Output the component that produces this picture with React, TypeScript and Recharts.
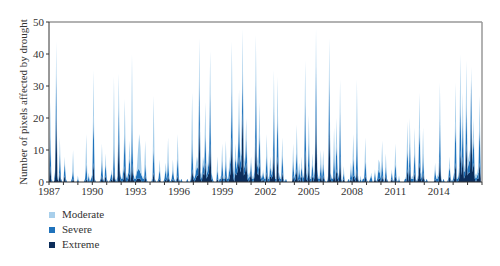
import { Area, AreaChart, ReferenceLine, XAxis, YAxis } from "recharts";

const START_YEAR = 1987;
const labelYears = [1987, 1990, 1993, 1996, 1999, 2002, 2005, 2008, 2011, 2014];
const yTicks = [0, 10, 20, 30, 40, 50];

// monthly pixel counts, one row per year (Jan..Dec), 1987-2016
const extreme = [
  [0, 5, 0, 0, 0, 1, 22, 1, 0, 3, 0, 0],
  [0, 2, 0, 0, 0, 0, 0, 0, 1, 0, 0, 0],
  [0, 0, 0, 0, 0, 0, 0, 1, 0, 0, 0, 0],
  [0, 6, 0, 0, 0, 0, 0, 0, 2, 0, 0, 2],
  [0, 0, 0, 0, 1, 0, 4, 0, 0, 0, 14, 1],
  [0, 0, 1, 5, 0, 0, 1, 3, 0, 6, 1, 0],
  [0, 1, 1, 1, 1, 0, 0, 0, 2, 0, 0, 0],
  [0, 0, 0, 3, 0, 0, 0, 0, 1, 0, 0, 0],
  [0, 1, 0, 2, 0, 0, 0, 1, 0, 0, 0, 2],
  [0, 0, 0, 0, 0, 0, 0, 0, 0, 0, 0, 4],
  [1, 0, 1, 2, 2, 18, 1, 0, 3, 2, 6, 1],
  [2, 3, 12, 1, 0, 0, 0, 0, 1, 0, 0, 0],
  [2, 0, 0, 2, 0, 0, 1, 3, 14, 2, 0, 3],
  [2, 4, 8, 3, 5, 22, 2, 3, 6, 1, 0, 1],
  [3, 0, 0, 2, 14, 3, 2, 6, 1, 0, 1, 0],
  [0, 3, 0, 0, 2, 1, 2, 10, 0, 0, 8, 1],
  [0, 0, 3, 0, 0, 0, 0, 0, 0, 0, 0, 2],
  [0, 1, 4, 0, 1, 0, 2, 0, 0, 10, 1, 0],
  [5, 0, 0, 2, 0, 2, 22, 2, 0, 0, 2, 0],
  [2, 0, 0, 0, 0, 18, 1, 0, 0, 3, 0, 4],
  [1, 0, 8, 0, 0, 1, 0, 0, 0, 0, 0, 1],
  [0, 2, 1, 0, 4, 0, 0, 0, 0, 0, 0, 2],
  [0, 0, 0, 0, 0, 0, 0, 1, 0, 0, 1, 1],
  [0, 2, 0, 0, 2, 0, 0, 0, 0, 1, 0, 0],
  [2, 0, 0, 0, 0, 0, 0, 0, 0, 0, 4, 0],
  [5, 0, 0, 0, 3, 0, 0, 1, 6, 1, 0, 3],
  [0, 0, 0, 0, 0, 0, 0, 0, 0, 1, 0, 0],
  [0, 8, 0, 0, 0, 0, 0, 0, 0, 2, 0, 0],
  [0, 1, 6, 0, 0, 1, 10, 2, 8, 1, 2, 12],
  [2, 3, 3, 20, 3, 6, 1, 0, 1, 1, 6, 1],
].flat();

const severe = [
  [1, 10, 1, 0, 0, 2, 12, 1, 0, 6, 1, 0],
  [0, 4, 1, 0, 0, 0, 0, 1, 3, 0, 0, 0],
  [1, 0, 0, 0, 0, 0, 1, 5, 0, 2, 0, 1],
  [2, 15, 1, 0, 0, 0, 0, 1, 5, 1, 0, 4],
  [1, 0, 0, 1, 2, 0, 9, 1, 0, 2, 10, 2],
  [1, 1, 3, 11, 2, 1, 2, 5, 1, 14, 2, 1],
  [1, 2, 3, 3, 2, 2, 1, 1, 4, 1, 0, 0],
  [0, 0, 1, 8, 1, 0, 0, 1, 3, 0, 0, 0],
  [1, 3, 1, 5, 1, 0, 1, 3, 1, 0, 1, 6],
  [1, 0, 1, 0, 0, 0, 0, 1, 0, 0, 1, 10],
  [1, 1, 2, 3, 2, 15, 2, 1, 3, 2, 10, 1],
  [2, 4, 16, 2, 1, 0, 0, 0, 3, 0, 1, 1],
  [5, 1, 1, 5, 1, 1, 3, 4, 16, 3, 1, 5],
  [2, 4, 12, 3, 4, 14, 2, 3, 8, 2, 1, 1],
  [3, 1, 1, 2, 18, 3, 2, 10, 1, 1, 2, 1],
  [1, 6, 1, 1, 3, 1, 2, 14, 1, 1, 14, 2],
  [1, 1, 6, 1, 0, 1, 0, 0, 0, 0, 0, 5],
  [1, 2, 6, 1, 3, 1, 3, 1, 2, 16, 2, 1],
  [8, 1, 1, 4, 1, 2, 14, 2, 1, 1, 4, 1],
  [4, 1, 0, 0, 1, 15, 2, 1, 1, 6, 1, 8],
  [2, 1, 14, 1, 0, 2, 0, 0, 0, 1, 0, 3],
  [1, 6, 1, 1, 12, 1, 0, 1, 0, 1, 1, 5],
  [1, 0, 0, 1, 2, 0, 0, 2, 0, 1, 3, 2],
  [1, 5, 1, 0, 3, 1, 0, 0, 0, 2, 0, 1],
  [4, 1, 0, 1, 0, 0, 0, 0, 1, 1, 7, 1],
  [8, 1, 1, 1, 7, 1, 0, 1, 11, 2, 1, 6],
  [1, 0, 1, 0, 0, 0, 0, 0, 0, 3, 1, 1],
  [2, 12, 1, 0, 1, 0, 0, 0, 1, 3, 1, 0],
  [1, 2, 13, 1, 1, 2, 16, 2, 12, 2, 2, 14],
  [2, 3, 4, 12, 3, 8, 1, 1, 1, 2, 12, 1],
].flat();

const moderate = [
  [0, 10, 1, 0, 0, 1, 10, 1, 0, 5, 0, 0],
  [0, 2, 0, 0, 0, 0, 0, 0, 6, 0, 0, 0],
  [1, 0, 0, 0, 0, 0, 0, 9, 0, 1, 0, 0],
  [1, 14, 0, 0, 0, 0, 0, 0, 5, 0, 0, 3],
  [0, 0, 0, 0, 1, 0, 20, 0, 0, 1, 10, 1],
  [0, 1, 3, 10, 1, 0, 1, 5, 1, 20, 2, 0],
  [1, 1, 6, 11, 8, 1, 0, 1, 7, 0, 0, 0],
  [0, 0, 1, 16, 0, 0, 0, 0, 3, 0, 0, 0],
  [0, 2, 1, 7, 0, 0, 0, 3, 0, 0, 1, 7],
  [0, 0, 0, 0, 0, 0, 0, 0, 0, 0, 1, 14],
  [1, 0, 2, 3, 2, 12, 1, 1, 2, 2, 9, 1],
  [2, 3, 13, 1, 0, 0, 0, 0, 4, 0, 0, 1],
  [5, 0, 1, 6, 0, 1, 2, 3, 14, 3, 1, 4],
  [1, 2, 9, 2, 3, 12, 2, 2, 6, 1, 1, 1],
  [2, 1, 0, 2, 14, 2, 2, 9, 1, 0, 1, 0],
  [1, 6, 0, 1, 3, 1, 2, 11, 1, 0, 11, 1],
  [0, 1, 5, 0, 0, 0, 0, 0, 0, 0, 0, 5],
  [0, 1, 8, 1, 2, 0, 3, 0, 1, 12, 2, 1],
  [8, 1, 0, 3, 1, 2, 12, 1, 0, 1, 4, 0],
  [4, 0, 0, 0, 1, 12, 1, 0, 0, 8, 1, 8],
  [1, 0, 10, 1, 0, 2, 0, 0, 0, 0, 0, 2],
  [1, 7, 1, 0, 16, 1, 0, 1, 0, 0, 0, 7],
  [0, 0, 0, 0, 1, 0, 0, 1, 0, 0, 3, 3],
  [1, 6, 0, 0, 4, 0, 0, 0, 0, 1, 0, 0],
  [6, 0, 0, 1, 0, 0, 0, 0, 0, 1, 8, 0],
  [7, 0, 1, 0, 7, 0, 0, 1, 11, 1, 1, 8],
  [0, 0, 0, 0, 0, 0, 0, 0, 0, 2, 0, 1],
  [1, 11, 1, 0, 0, 0, 0, 0, 0, 3, 0, 0],
  [0, 1, 12, 1, 0, 2, 14, 2, 8, 1, 2, 12],
  [2, 2, 3, 4, 2, 6, 1, 1, 1, 2, 9, 1],
].flat();

const colors = {
  moderate: "#a8cfeb",
  severe: "#1f72bb",
  extreme: "#0c2d5a",
};

const data = extreme.map((_, i) => ({
  month: i,
  extreme: extreme[i],
  severe: severe[i],
  moderate: moderate[i],
}));

const xTicks = Array.from({ length: 31 }, (_, i) => i * 12);
const font = "Liberation Serif, DejaVu Serif, serif";

const legendItems = [
  { key: "moderate", label: "Moderate" },
  { key: "severe", label: "Severe" },
  { key: "extreme", label: "Extreme" },
] as const;

export default function App() {
  return (
    <div style={{ position: "absolute", left: 0, top: 0, width: 500, height: 266, background: "#fff", fontFamily: font }}>
      <AreaChart width={500} height={266} data={data} margin={{ top: 22, right: 18, bottom: 66, left: 0 }}>
        <XAxis
          dataKey="month"
          type="number"
          domain={[0, 360]}
          ticks={xTicks}
          interval={0}
          tickSize={3}
          height={18}
          stroke="#333"
          tick={{ fill: "#333", fontSize: 11, fontFamily: font }}
          tickFormatter={(v: number) => {
            const y = START_YEAR + v / 12;
            return labelYears.includes(y) ? String(y) : "";
          }}
        />
        <YAxis
          domain={[0, 50]}
          ticks={yTicks}
          width={49}
          tickSize={3}
          stroke="#333"
          tick={{ fill: "#333", fontSize: 11, fontFamily: font }}
          label={{
            value: "Number of pixels affected by drought",
            angle: -90,
            position: "center",
            dx: -1,
            style: { fill: "#333", fontSize: 11, fontFamily: font, textAnchor: "middle" },
          }}
        />
        <ReferenceLine y={50} stroke="#999" strokeWidth={1.5} />
        <ReferenceLine x={360} stroke="#999" strokeWidth={1.5} />
        <Area type="linear" dataKey="extreme" stackId="a" fill={colors.extreme} fillOpacity={1} stroke="none" isAnimationActive={false} />
        <Area type="linear" dataKey="severe" stackId="a" fill={colors.severe} fillOpacity={1} stroke="none" isAnimationActive={false} />
        <Area type="linear" dataKey="moderate" stackId="a" fill={colors.moderate} fillOpacity={1} stroke="none" isAnimationActive={false} />
      </AreaChart>
      <div style={{ position: "absolute", left: 49, top: 207, fontSize: 11, color: "#333", lineHeight: "15px" }}>
        {legendItems.map((item) => (
          <div key={item.key} style={{ display: "flex", alignItems: "center" }}>
            <span style={{ display: "inline-block", width: 6, height: 6, background: colors[item.key], marginRight: 7 }} />
            {item.label}
          </div>
        ))}
      </div>
    </div>
  );
}
